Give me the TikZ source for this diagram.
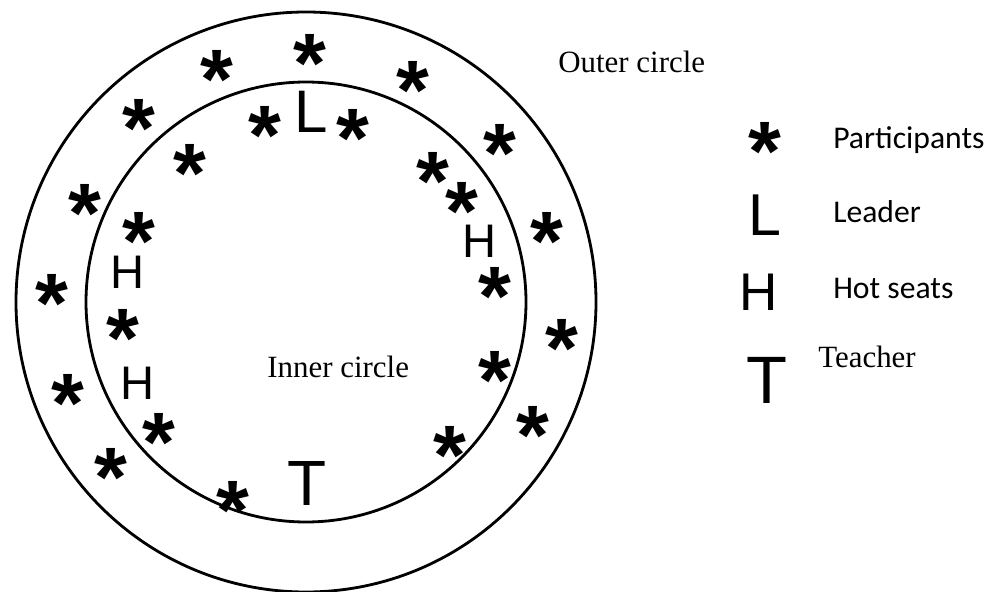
\documentclass[tikz,border=0pt]{standalone}
\usepackage{fontspec}
\setmainfont{Liberation Serif}
\newfontfamily\arialfont{Liberation Sans}
\newfontfamily\calfont{Carlito}

\begin{document}
\begin{tikzpicture}[x=0.025cm,y=-0.025cm]
  \tikzset{
    ring/.style={line width=2pt},
    seat/.style={font=\arialfont\bfseries\fontsize{60}{60}\selectfont,inner sep=0pt,
                 text height=19pt,text depth=0pt},
    role/.style={inner sep=0pt,anchor=base},
    keytext/.style={font=\calfont\fontsize{22.5}{24}\selectfont,inner sep=0pt,
                    anchor=base west},
    serif/.style={font=\fontsize{22}{24}\selectfont,inner sep=0pt,anchor=base west}
  }
  \useasboundingbox (0,0) rectangle (989,592);
  \coordinate (ctr) at (306,302);
  \draw[ring] (ctr) circle[radius=290];
  \draw[ring] (ctr) circle[radius=220];
  % participants, outer ring then inner ring
  \foreach \x/\y [count=\i] in {310/45,217/61,413/72,139/110,500/135,85/195,
      547/223,52/285,562/330,68/385,533/417,111/459,
      265/117,353/120,190/155,433/163,462/193,139/223,495/278,123/320,
      495/362,159/424,450/437,233/492}
    \node[seat] (p\i) at (\x,\y) {\raisebox{-24pt}{*}};
  % leader, hot seats, teacher
  \node[role,font=\arialfont\fontsize{42.7}{44}\selectfont] (lead) at (311,132) {L};
  \node[role,font=\arialfont\fontsize{33.5}{34}\selectfont] (hot1) at (128,288) {H};
  \node[role,font=\arialfont\fontsize{33.5}{34}\selectfont] (hot2) at (480,257) {H};
  \node[role,font=\arialfont\fontsize{33.5}{34}\selectfont] (hot3) at (138,399) {H};
  \node[role,font=\arialfont\fontsize{45.5}{46}\selectfont] (teach) at (307,505) {T};
  \node[serif] (outer) at (558,72) {Outer circle};
  \node[serif] (inner) at (267,377) {Inner circle};
  % legend
  \node[seat] (kpart) at (765,133) {\raisebox{-24pt}{*}};
  \node[role,font=\arialfont\fontsize{42}{44}\selectfont] (klead) at (765,235) {L};
  \node[role,font=\arialfont\fontsize{37.7}{40}\selectfont] (khot) at (759,310) {H};
  \node[role,font=\arialfont\fontsize{47.7}{48}\selectfont] (kteach) at (767,403) {T};
  \node[keytext] (tpart) at (833,148) {Participants};
  \node[keytext] (tlead) at (833,222) {Leader};
  \node[keytext] (thot) at (833,298) {Hot seats};
  \node[serif] (tteach) at (818,367) {Teacher};
\end{tikzpicture}
\end{document}
